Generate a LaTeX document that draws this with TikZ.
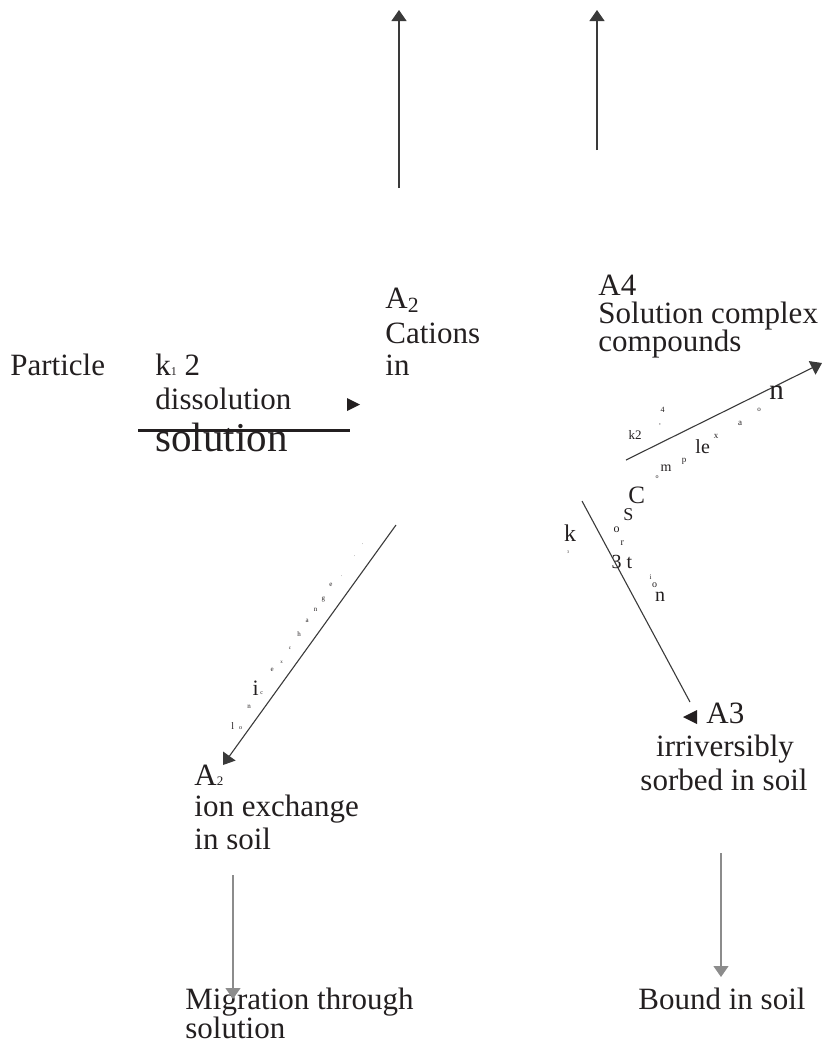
\documentclass[tikz,border=0pt]{standalone}
\usepackage{fontspec}
\setmainfont{Liberation Serif}
\usepackage{xcolor}
\usepackage{tikz}
\usetikzlibrary{arrows.meta}
\definecolor{InkDark}{HTML}{231F20}
\definecolor{LineDark}{HTML}{3A3A3A}
\definecolor{LineGray}{HTML}{8C8C8C}

\begin{document}
\begin{tikzpicture}[
  x=0.5pt, y=-0.5pt,
  >={Triangle[length=5.5pt,width=7.5pt]},
  label/.style={
    font=\fontsize{15.5}{17}\selectfont, text=InkDark,
    inner sep=0pt, anchor=base west
  },
  letter/.style={text=InkDark, inner sep=0pt, anchor=center},
  flow/.style={draw=LineDark, line width=0.55pt},
  flowgray/.style={draw=LineGray, line width=0.6pt},
]
\useasboundingbox (0,0) rectangle (823,1046);

% ---------- Labels ----------
\node[label] (part)  at (10,375)  {Particle};
\node[label] (kone)  at (155,375) {k{\fontsize{6}{6}\selectfont 1} 2};
\node[label] (diss)  at (155,409) {dissolution};
\node[label, font=\fontsize{20.5}{22}\selectfont] (solbig) at (155,451) {solution};

\node[label] (catA)  at (385,308) {A\textsubscript{2}};
\node[label] (catB)  at (385,343) {Cations};
\node[label] (catC)  at (385,375) {in};

\node[label] (cpxA)  at (598,295) {A4};
\node[label] (cpxB)  at (598,323) {Solution complex};
\node[label] (cpxC)  at (598,351) {compounds};

\node[label] (irrA)  at (706,723) {A3};
\node[label, anchor=base] (irrB) at (725,756) {irriversibly};
\node[label, anchor=base] (irrC) at (724,790) {sorbed in soil};

\node[label] (ionA)  at (194,785) {A{\fontsize{6.5}{6.5}\selectfont 2}};
\node[label] (ionB)  at (194,816) {ion exchange};
\node[label] (ionC)  at (194,849) {in soil};

\node[label] (migA)  at (185,1009) {Migration through};
\node[label] (migB)  at (185,1038) {solution};
\node[label] (bound) at (638,1009) {Bound in soil};

% ---------- Free ends of the connectors ----------
\coordinate (upL0)  at (399,188);  \coordinate (upL1)  at (399,10);
\coordinate (upR0)  at (597,150);  \coordinate (upR1)  at (597,10);
\coordinate (dis0)  at (138,430);  \coordinate (dis1)  at (350,430);
\coordinate (cpx0)  at (626,460);  \coordinate (cpx1)  at (822,363);
\coordinate (sor0)  at (582,501);  \coordinate (sor1)  at (690,702);
\coordinate (ion0)  at (396,525);  \coordinate (ion1)  at (223,765);
\coordinate (mig0)  at (233,875);  \coordinate (mig1)  at (233,999);
\coordinate (bnd0)  at (721,853);  \coordinate (bnd1)  at (721,977);

% ---------- Connectors ----------
\draw[flow, ->] (upL0) -- (upL1);
\draw[flow, ->] (upR0) -- (upR1);
\draw[draw=InkDark, line width=1.5pt] (dis0) -- (dis1);
\fill[InkDark] (347,398) -- (360,404.5) -- (347,411) -- cycle;   % stray head
\draw[flow, ->] (cpx0) -- (cpx1);
\draw[flow] (sor0) -- (sor1);
\fill[InkDark] (697,710) -- (683,717) -- (697,724) -- cycle;     % stray head
\draw[flow, ->] (ion0) -- (ion1);
\draw[flowgray, ->] (mig0) -- (mig1);
\draw[flowgray, ->] (bnd0) -- (bnd1);

% ---------- Scattered letters along the connectors ----------
% ion exchange (left)
\foreach \px/\py/\sz/\ch [count=\i] in {
    232.7/726/5/l, 240.7/728/3/o, 249/707/3.5/n, 255.7/688/11/i,
    261.7/693/3/c, 272.3/670/3.5/e, 281.7/662/2.5/x, 290/648/2.5/c,
    299/634/3.5/h, 307.3/621/3.5/a, 315.7/610/3.5/n, 323.3/599/3.5/g,
    331/585/3.5/e, 341.7/576/2.5/., 354.7/556/2.5/., 362.7/544/2.5/.}
  \node[letter, font=\fontsize{\sz}{\sz}\selectfont] (ix\i) at (\px,\py) {\ch};
% complexation (upper right)
\foreach \px/\py/\sz/\ch [count=\i] in {
    635/435/6.5/k2, 662.7/410/4/4, 660/425/3.5/{,}, 636.7/495/12.5/C,
    657/477/3/o, 666/468/7/m, 684/461/4.5/p, 702.7/447/10/le,
    716/436/4.5/x, 740/423/4.5/a, 759/410/3.5/o, 776.7/393/14.5/n}
  \node[letter, font=\fontsize{\sz}{\sz}\selectfont] (cx\i) at (\px,\py) {\ch};
% sorption (lower right)
\foreach \px/\py/\sz/\ch [count=\i] in {
    570/533/12/k, 568/552/2/3, 628.3/515/9/S, 616.7/530/6/o,
    622.3/543/5/r, 616.7/562/10/3, 629.3/563/10/t, 650.7/577/3.5/i,
    654.7/585/5/o, 660/597/10/n}
  \node[letter, font=\fontsize{\sz}{\sz}\selectfont] (sx\i) at (\px,\py) {\ch};

\end{tikzpicture}
\end{document}
